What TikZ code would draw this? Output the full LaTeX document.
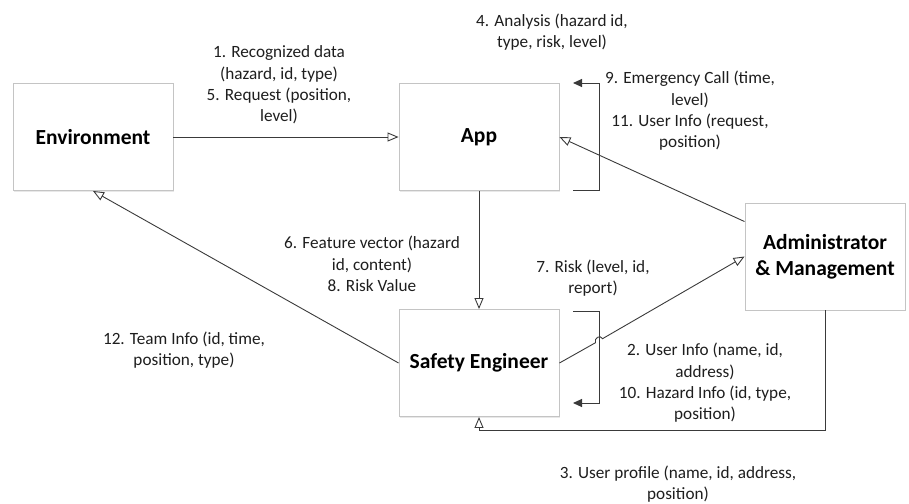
\documentclass[tikz,border=0pt]{standalone}
\usepackage{fontspec}
\setmainfont{Carlito}
\usetikzlibrary{arrows.meta,shadows,calc}
\definecolor{wire}{HTML}{3A3A3A}
\definecolor{frame}{HTML}{C4C4C4}
\definecolor{ink}{HTML}{1E1E1E}
\begin{document}
\begin{tikzpicture}[x=1pt,y=-1pt,
  entity/.style={draw=frame,line width=0.9pt,fill=white,minimum width=160pt,minimum height=107pt,
    align=center,font=\fontsize{21.5}{26}\selectfont\bfseries,text=black,
    drop shadow={shadow xshift=1.2pt,shadow yshift=-1.2pt,opacity=0.18}},
  msg/.style={align=center,font=\fontsize{17.2}{21.3}\selectfont,text=ink},
  flow/.style={draw=wire,line width=0.9pt,-{Triangle[open,length=11pt,width=9pt]}},
  loopflow/.style={draw=wire,line width=1pt,-{Triangle[length=9pt,width=8pt]}}]
\useasboundingbox (0,0) rectangle (909,503);

% the four parties
\node[entity] (env)   at (93,137)    {Environment};
\node[entity] (app)   at (479,137)   {App};
\node[entity] (se)    at (479,363)   {Safety Engineer};
\node[entity] (admin) at (825,256.5) {Administrator\\\& Management};

% helper points for the self loops and routed links
\coordinate (appLoopOut) at (573,190);
\coordinate (appLoopIn)  at (573,83);
\coordinate (seLoopOut)  at (573,311);
\coordinate (seLoopIn)   at (573,403);
\coordinate (adminOut)   at ($(admin.north west)+(0,19)$);
\coordinate (seBelow)    at ($(se.south)+(0,13)$);
\coordinate (jumpA) at (595.5,342.7);
\coordinate (jumpB) at (602.5,338.7);

% links
\draw[flow] (env.east) -- (app.west);
\draw[loopflow] (appLoopOut) -- (599,190) -- (599,83) -- (appLoopIn);
\draw[flow] (adminOut) -- (app.east);
\draw[flow] (app.south) -- (se.north);
\draw[flow] (se.west) -- (env.south);
\draw[loopflow] (seLoopOut) -- (599,311) -- (599,403) -- (seLoopIn);
\draw[flow] (se.east) -- (jumpA) .. controls ($(jumpA)+(-2,-4.5)$) and ($(jumpB)+(-2,-4.5)$) .. (jumpB) -- (admin.west);
\draw[flow] (admin.south) |- (seBelow) -- (se.south);

% message labels
\node[msg] (m1)  at (279,85)  {1. Recognized data\\(hazard, id, type)\\5. Request (position,\\level)};
\node[msg] (m4)  at (552,32)  {4. Analysis (hazard id,\\type, risk, level)};
\node[msg] (m9)  at (690,111) {9. Emergency Call (time,\\level)\\11. User Info (request,\\position)};
\node[msg] (m6)  at (372,264) {6. Feature vector (hazard\\id, content)\\8. Risk Value};
\node[msg] (m7)  at (593,278) {7. Risk (level, id,\\report)};
\node[msg] (m12) at (184,350) {12. Team Info (id, time,\\position, type)};
\node[msg] (m2)  at (705,383) {2. User Info (name, id,\\address)\\10. Hazard Info (id, type,\\position)};
\node[msg] (m3)  at (678,484) {3. User profile (name, id, address,\\position)};
\end{tikzpicture}
\end{document}
